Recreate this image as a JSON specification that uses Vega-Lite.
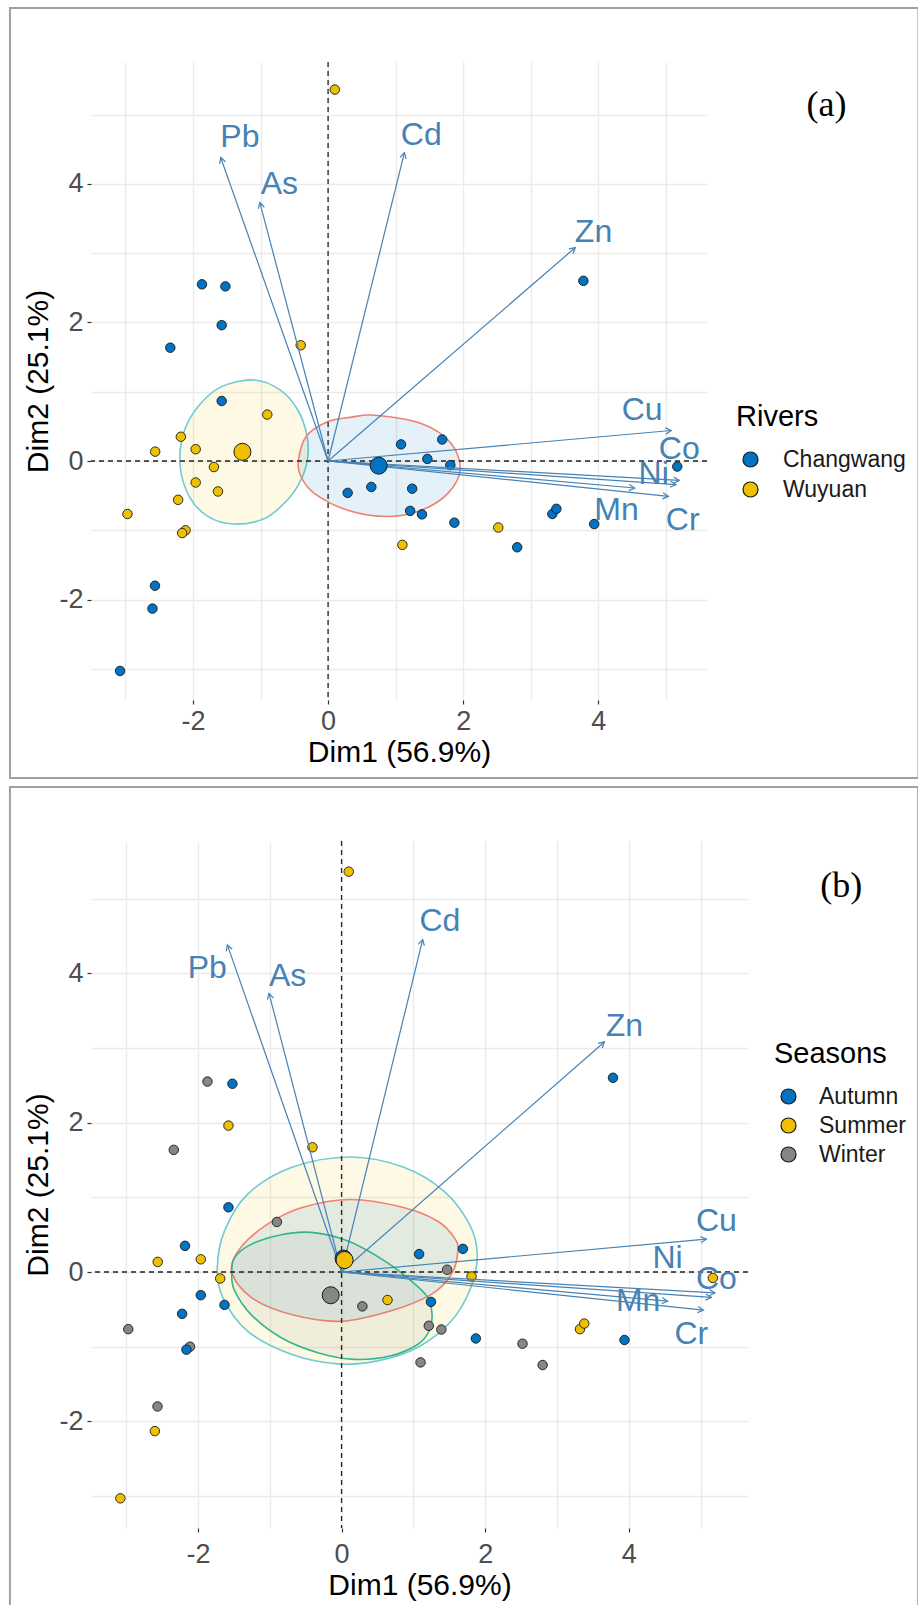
{
  "$schema": "https://vega.github.io/schema/vega-lite/v6.json",
  "background": "white",
  "padding": {"left": 8, "top": 7, "right": 0, "bottom": 0},
  "spacing": 6,
  "config": {
    "view": {"stroke": null},
    "font": "Liberation Sans",
    "axis": {
      "domain": false,
      "grid": true,
      "gridColor": "#EBEBEB",
      "gridWidth": 1.4,
      "tickColor": "#333333",
      "tickSize": 4,
      "tickWidth": 1.2,
      "labelFontSize": 27,
      "labelColor": "#4D4D4D",
      "titleFontSize": 30,
      "titleFontWeight": "normal",
      "titleColor": "#000000",
      "labelOverlap": false,
      "labelFlush": false
    }
  },
  "resolve": {"scale": {"x": "independent", "y": "independent", "color": "independent", "fill": "independent", "stroke": "independent"}},
  "datasets": {
    "pts": [
      {"x": -1.867, "y": 2.55, "river": "Changwang", "season": "Winter"},
      {"x": -1.52, "y": 2.52, "river": "Changwang", "season": "Autumn"},
      {"x": -1.575, "y": 1.96, "river": "Changwang", "season": "Summer"},
      {"x": -2.336, "y": 1.635, "river": "Changwang", "season": "Winter"},
      {"x": -1.575, "y": 0.866, "river": "Changwang", "season": "Autumn"},
      {"x": -2.563, "y": -1.8, "river": "Changwang", "season": "Winter"},
      {"x": -2.6, "y": -2.13, "river": "Changwang", "season": "Summer"},
      {"x": -3.08, "y": -3.03, "river": "Changwang", "season": "Summer"},
      {"x": 1.08, "y": 0.24, "river": "Changwang", "season": "Autumn"},
      {"x": 0.29, "y": -0.46, "river": "Changwang", "season": "Winter"},
      {"x": 0.64, "y": -0.375, "river": "Changwang", "season": "Summer"},
      {"x": 1.245, "y": -0.4, "river": "Changwang", "season": "Autumn"},
      {"x": 1.215, "y": -0.72, "river": "Changwang", "season": "Winter"},
      {"x": 1.39, "y": -0.77, "river": "Changwang", "season": "Winter"},
      {"x": 1.69, "y": 0.31, "river": "Changwang", "season": "Autumn"},
      {"x": 1.47, "y": 0.03, "river": "Changwang", "season": "Winter"},
      {"x": 1.81, "y": -0.06, "river": "Changwang", "season": "Summer"},
      {"x": 1.87, "y": -0.89, "river": "Changwang", "season": "Autumn"},
      {"x": 2.8, "y": -1.245, "river": "Changwang", "season": "Winter"},
      {"x": 3.32, "y": -0.765, "river": "Changwang", "season": "Summer"},
      {"x": 3.38, "y": -0.69, "river": "Changwang", "season": "Summer"},
      {"x": 3.94, "y": -0.91, "river": "Changwang", "season": "Autumn"},
      {"x": 5.17, "y": -0.08, "river": "Changwang", "season": "Summer"},
      {"x": 3.78, "y": 2.6, "river": "Changwang", "season": "Autumn"},
      {"x": 0.1, "y": 5.36, "river": "Wuyuan", "season": "Summer"},
      {"x": -0.405, "y": 1.67, "river": "Wuyuan", "season": "Summer"},
      {"x": -0.9, "y": 0.67, "river": "Wuyuan", "season": "Winter"},
      {"x": -2.18, "y": 0.35, "river": "Wuyuan", "season": "Autumn"},
      {"x": -2.56, "y": 0.135, "river": "Wuyuan", "season": "Summer"},
      {"x": -1.96, "y": 0.17, "river": "Wuyuan", "season": "Summer"},
      {"x": -1.69, "y": -0.087, "river": "Wuyuan", "season": "Summer"},
      {"x": -1.96, "y": -0.31, "river": "Wuyuan", "season": "Autumn"},
      {"x": -1.63, "y": -0.44, "river": "Wuyuan", "season": "Autumn"},
      {"x": -2.22, "y": -0.56, "river": "Wuyuan", "season": "Autumn"},
      {"x": -2.97, "y": -0.765, "river": "Wuyuan", "season": "Winter"},
      {"x": -2.11, "y": -1.0, "river": "Wuyuan", "season": "Winter"},
      {"x": -2.16, "y": -1.04, "river": "Wuyuan", "season": "Autumn"},
      {"x": 1.1, "y": -1.21, "river": "Wuyuan", "season": "Winter"},
      {"x": 2.52, "y": -0.96, "river": "Wuyuan", "season": "Winter"}
    ],
    "vars": [
      {"v": "Pb", "x": -1.59, "y": 4.38, "lxa": -1.305, "lya": 4.68, "lxb": -1.87, "lyb": 4.07},
      {"v": "As", "x": -1.01, "y": 3.73, "lxa": -0.72, "lya": 4.0, "lxb": -0.75, "lyb": 3.96},
      {"v": "Cd", "x": 1.13, "y": 4.45, "lxa": 1.38, "lya": 4.7, "lxb": 1.37, "lyb": 4.7},
      {"v": "Zn", "x": 3.66, "y": 3.08, "lxa": 3.93, "lya": 3.31, "lxb": 3.94, "lyb": 3.29},
      {"v": "Cu", "x": 5.08, "y": 0.44, "lxa": 4.65, "lya": 0.73, "lxb": 5.22, "lyb": 0.68},
      {"v": "Co", "x": 5.2, "y": -0.28, "lxa": 5.2, "lya": 0.18, "lxb": 5.22, "lyb": -0.1},
      {"v": "Ni", "x": 5.15, "y": -0.34, "lxa": 4.82, "lya": -0.19, "lxb": 4.54, "lyb": 0.19},
      {"v": "Mn", "x": 4.54, "y": -0.39, "lxa": 4.27, "lya": -0.71, "lxb": 4.13, "lyb": -0.39},
      {"v": "Cr", "x": 5.04, "y": -0.51, "lxa": 5.25, "lya": -0.85, "lxb": 4.87, "lyb": -0.83}
    ],
    "ellA": [
      {"g": "Wuyuan", "i": 1, "x": -1.09, "y": 1.17},
      {"g": "Wuyuan", "i": 2, "x": -0.7, "y": 1.02},
      {"g": "Wuyuan", "i": 3, "x": -0.45, "y": 0.74},
      {"g": "Wuyuan", "i": 4, "x": -0.32, "y": 0.4},
      {"g": "Wuyuan", "i": 5, "x": -0.3, "y": 0.06},
      {"g": "Wuyuan", "i": 6, "x": -0.4, "y": -0.27},
      {"g": "Wuyuan", "i": 7, "x": -0.6, "y": -0.56},
      {"g": "Wuyuan", "i": 8, "x": -0.94, "y": -0.83},
      {"g": "Wuyuan", "i": 9, "x": -1.41, "y": -0.91},
      {"g": "Wuyuan", "i": 10, "x": -1.78, "y": -0.8},
      {"g": "Wuyuan", "i": 11, "x": -2.05, "y": -0.52},
      {"g": "Wuyuan", "i": 12, "x": -2.19, "y": -0.08},
      {"g": "Wuyuan", "i": 13, "x": -2.14, "y": 0.4},
      {"g": "Wuyuan", "i": 14, "x": -1.93, "y": 0.78},
      {"g": "Wuyuan", "i": 15, "x": -1.585, "y": 1.07},
      {"g": "Changwang", "i": 1, "x": 0.69, "y": 0.66},
      {"g": "Changwang", "i": 2, "x": 1.38, "y": 0.54},
      {"g": "Changwang", "i": 3, "x": 1.82, "y": 0.255},
      {"g": "Changwang", "i": 4, "x": 1.955, "y": -0.13},
      {"g": "Changwang", "i": 5, "x": 1.77, "y": -0.47},
      {"g": "Changwang", "i": 6, "x": 1.38, "y": -0.71},
      {"g": "Changwang", "i": 7, "x": 0.88, "y": -0.8},
      {"g": "Changwang", "i": 8, "x": 0.29, "y": -0.71},
      {"g": "Changwang", "i": 9, "x": -0.2, "y": -0.47},
      {"g": "Changwang", "i": 10, "x": -0.4, "y": -0.23},
      {"g": "Changwang", "i": 11, "x": -0.44, "y": 0.0},
      {"g": "Changwang", "i": 12, "x": -0.32, "y": 0.36},
      {"g": "Changwang", "i": 13, "x": 0.0, "y": 0.57},
      {"g": "Changwang", "i": 14, "x": 0.33, "y": 0.63}
    ],
    "ellB": [
      {"g": "Summer", "i": 1, "x": 0.13, "y": 1.54},
      {"g": "Summer", "i": 2, "x": 0.875, "y": 1.4},
      {"g": "Summer", "i": 3, "x": 1.43, "y": 1.08},
      {"g": "Summer", "i": 4, "x": 1.78, "y": 0.64},
      {"g": "Summer", "i": 5, "x": 1.89, "y": 0.24},
      {"g": "Summer", "i": 6, "x": 1.8, "y": -0.21},
      {"g": "Summer", "i": 7, "x": 1.525, "y": -0.66},
      {"g": "Summer", "i": 8, "x": 1.06, "y": -1.01},
      {"g": "Summer", "i": 9, "x": 0.5, "y": -1.19},
      {"g": "Summer", "i": 10, "x": -0.05, "y": -1.23},
      {"g": "Summer", "i": 11, "x": -0.7, "y": -1.1},
      {"g": "Summer", "i": 12, "x": -1.31, "y": -0.79},
      {"g": "Summer", "i": 13, "x": -1.655, "y": -0.34},
      {"g": "Summer", "i": 14, "x": -1.73, "y": 0.06},
      {"g": "Summer", "i": 15, "x": -1.63, "y": 0.55},
      {"g": "Summer", "i": 16, "x": -1.31, "y": 1.04},
      {"g": "Summer", "i": 17, "x": -0.7, "y": 1.4},
      {"g": "Autumn", "i": 1, "x": 0.13, "y": 0.97},
      {"g": "Autumn", "i": 2, "x": 0.875, "y": 0.86},
      {"g": "Autumn", "i": 3, "x": 1.34, "y": 0.68},
      {"g": "Autumn", "i": 4, "x": 1.57, "y": 0.46},
      {"g": "Autumn", "i": 5, "x": 1.62, "y": 0.28},
      {"g": "Autumn", "i": 6, "x": 1.53, "y": -0.03},
      {"g": "Autumn", "i": 7, "x": 1.25, "y": -0.3},
      {"g": "Autumn", "i": 8, "x": 0.69, "y": -0.52},
      {"g": "Autumn", "i": 9, "x": 0.0, "y": -0.66},
      {"g": "Autumn", "i": 10, "x": -0.7, "y": -0.57},
      {"g": "Autumn", "i": 11, "x": -1.26, "y": -0.34},
      {"g": "Autumn", "i": 12, "x": -1.53, "y": 0.01},
      {"g": "Autumn", "i": 13, "x": -1.4, "y": 0.33},
      {"g": "Autumn", "i": 14, "x": -1.03, "y": 0.64},
      {"g": "Autumn", "i": 15, "x": -0.56, "y": 0.86},
      {"g": "Winter", "i": 1, "x": -1.49, "y": 0.19},
      {"g": "Winter", "i": 2, "x": -1.26, "y": 0.37},
      {"g": "Winter", "i": 3, "x": -0.84, "y": 0.5},
      {"g": "Winter", "i": 4, "x": -0.42, "y": 0.53},
      {"g": "Winter", "i": 5, "x": 0.09, "y": 0.415},
      {"g": "Winter", "i": 6, "x": 0.6, "y": 0.15},
      {"g": "Winter", "i": 7, "x": 0.97, "y": -0.12},
      {"g": "Winter", "i": 8, "x": 1.2, "y": -0.34},
      {"g": "Winter", "i": 9, "x": 1.26, "y": -0.57},
      {"g": "Winter", "i": 10, "x": 1.22, "y": -0.79},
      {"g": "Winter", "i": 11, "x": 1.06, "y": -0.97},
      {"g": "Winter", "i": 12, "x": 0.69, "y": -1.12},
      {"g": "Winter", "i": 13, "x": 0.18, "y": -1.17},
      {"g": "Winter", "i": 14, "x": -0.33, "y": -1.08},
      {"g": "Winter", "i": 15, "x": -0.84, "y": -0.88},
      {"g": "Winter", "i": 16, "x": -1.26, "y": -0.57},
      {"g": "Winter", "i": 17, "x": -1.49, "y": -0.25},
      {"g": "Winter", "i": 18, "x": -1.53, "y": -0.03}
    ]
  },
  "vconcat": [
    {
      "width": 616,
      "height": 638,
      "layer": [
        {
          "data": {"values": [{}]},
          "mark": {"type": "rect", "fill": "transparent", "stroke": "#A0A0A0", "strokeWidth": 2},
          "encoding": {
            "x": {"datum": -4.71, "type": "quantitative", "scale": {"domain": [-3.51, 5.61], "nice": false, "zero": false}, "title": "Dim1 (56.9%)"},
            "x2": {"datum": 8.74},
            "y": {"datum": 6.537, "type": "quantitative", "scale": {"domain": [-3.449, 5.758], "nice": false, "zero": false}, "title": "Dim2 (25.1%)"},
            "y2": {"datum": -4.574}
          }
        },
        {
          "data": {"name": "ellA"},
          "mark": {"type": "line", "interpolate": "cardinal-closed", "strokeWidth": 1.6, "fillOpacity": 0.1, "opacity": 1},
          "encoding": {
            "x": {"field": "x", "type": "quantitative", "scale": {"domain": [-3.51, 5.61], "nice": false, "zero": false}, "title": "Dim1 (56.9%)"},
            "y": {"field": "y", "type": "quantitative", "scale": {"domain": [-3.449, 5.758], "nice": false, "zero": false}, "title": "Dim2 (25.1%)"},
            "order": {"field": "i", "type": "quantitative"},
            "stroke": {"field": "g", "type": "nominal", "scale": {"domain": ["Wuyuan", "Changwang"], "range": ["#6FCBD4", "#F08070"]}, "legend": null},
            "fill": {"field": "g", "type": "nominal", "scale": {"domain": ["Wuyuan", "Changwang"], "range": ["#EFC000", "#0073C2"]}, "legend": null}
          }
        },
        {
          "data": {"values": [{}]},
          "mark": {"type": "rule", "color": "#222222", "strokeWidth": 1.3, "strokeDash": [5, 4]},
          "encoding": {
            "x": {"datum": 0, "type": "quantitative", "scale": {"domain": [-3.51, 5.61], "nice": false, "zero": false}, "title": "Dim1 (56.9%)"}
          }
        },
        {
          "data": {"values": [{}]},
          "mark": {"type": "rule", "color": "#222222", "strokeWidth": 1.3, "strokeDash": [5, 4]},
          "encoding": {
            "y": {"datum": 0, "type": "quantitative", "scale": {"domain": [-3.449, 5.758], "nice": false, "zero": false}, "title": "Dim2 (25.1%)"}
          }
        },
        {
          "data": {"name": "pts"},
          "mark": {"type": "point", "shape": "circle", "filled": true, "size": 90, "stroke": "#1A1A1A", "strokeWidth": 0.9, "opacity": 1},
          "encoding": {
            "x": {"field": "x", "type": "quantitative", "scale": {"domain": [-3.51, 5.61], "nice": false, "zero": false}, "title": "Dim1 (56.9%)",
              "axis": {"values": [-3, -2, -1, 0, 1, 2, 3, 4, 5], "labelExpr": "datum.value % 2 === 0 ? '' + datum.value : ''", "tickOpacity": {"condition": {"test": "datum.value % 2 !== 0", "value": 0}, "value": 1}, "labelPadding": 4, "titlePadding": 3}},
            "y": {"field": "y", "type": "quantitative", "scale": {"domain": [-3.449, 5.758], "nice": false, "zero": false}, "title": "Dim2 (25.1%)",
              "axis": {"values": [-3, -2, -1, 0, 1, 2, 3, 4, 5], "labelExpr": "datum.value % 2 === 0 ? '' + datum.value : ''", "tickOpacity": {"condition": {"test": "datum.value % 2 !== 0", "value": 0}, "value": 1}, "labelPadding": 4, "titlePadding": 5}},
            "color": {"field": "river", "type": "nominal", "scale": {"domain": ["Changwang", "Wuyuan"], "range": ["#0073C2", "#EFC000"]},
              "legend": {"title": "Rivers", "orient": "none", "legendX": 645, "legendY": 341, "titleFontSize": 29, "titleFontWeight": "normal", "titleColor": "#000000", "titlePadding": 16, "labelFontSize": 23, "labelColor": "#1A1A1A", "symbolSize": 225, "symbolType": "circle", "symbolStrokeColor": "#333333", "symbolStrokeWidth": 1.2, "symbolOpacity": 1, "rowPadding": 6, "labelOffset": 21, "symbolOffset": 3}}
          }
        },
        {
          "data": {"name": "vars"},
          "mark": {"type": "rule", "color": "#4682B4", "strokeWidth": 1.2},
          "encoding": {
            "x": {"field": "x", "type": "quantitative", "scale": {"domain": [-3.51, 5.61], "nice": false, "zero": false}, "title": "Dim1 (56.9%)"},
            "y": {"field": "y", "type": "quantitative", "scale": {"domain": [-3.449, 5.758], "nice": false, "zero": false}, "title": "Dim2 (25.1%)"},
            "x2": {"datum": 0},
            "y2": {"datum": 0}
          }
        },
        {
          "data": {"name": "vars"},
          "transform": [{"calculate": "atan2(datum.x * 67.5, datum.y * 69.3) * 180 / PI", "as": "ang"}],
          "mark": {"type": "point", "shape": "M -0.55 1 L 0 0 L 0.55 1", "filled": false, "color": "#4682B4", "strokeWidth": 1.2, "size": 130, "opacity": 1},
          "encoding": {
            "x": {"field": "x", "type": "quantitative", "scale": {"domain": [-3.51, 5.61], "nice": false, "zero": false}, "title": "Dim1 (56.9%)"},
            "y": {"field": "y", "type": "quantitative", "scale": {"domain": [-3.449, 5.758], "nice": false, "zero": false}, "title": "Dim2 (25.1%)"},
            "angle": {"field": "ang", "type": "quantitative", "scale": null}
          }
        },
        {
          "data": {"name": "vars"},
          "mark": {"type": "text", "color": "#4682B4", "fontSize": 32, "align": "center", "baseline": "middle"},
          "encoding": {
            "x": {"field": "lxa", "type": "quantitative", "scale": {"domain": [-3.51, 5.61], "nice": false, "zero": false}, "title": "Dim1 (56.9%)"},
            "y": {"field": "lya", "type": "quantitative", "scale": {"domain": [-3.449, 5.758], "nice": false, "zero": false}, "title": "Dim2 (25.1%)"},
            "text": {"field": "v"}
          }
        },
        {
          "data": {"name": "pts"},
          "transform": [{"aggregate": [{"op": "mean", "field": "x", "as": "mx"}, {"op": "mean", "field": "y", "as": "my"}], "groupby": ["river"]}],
          "mark": {"type": "point", "shape": "circle", "filled": true, "size": 290, "stroke": "#1A1A1A", "strokeWidth": 1, "opacity": 1},
          "encoding": {
            "x": {"field": "mx", "type": "quantitative", "scale": {"domain": [-3.51, 5.61], "nice": false, "zero": false}, "title": "Dim1 (56.9%)"},
            "y": {"field": "my", "type": "quantitative", "scale": {"domain": [-3.449, 5.758], "nice": false, "zero": false}, "title": "Dim2 (25.1%)"},
            "color": {"field": "river", "type": "nominal"}
          }
        },
        {
          "data": {"values": [{}]},
          "mark": {"type": "text", "text": "(a)", "font": "Liberation Serif", "fontSize": 36, "color": "#000000", "align": "center", "baseline": "middle"},
          "encoding": {
            "x": {"datum": 7.378, "type": "quantitative", "scale": {"domain": [-3.51, 5.61], "nice": false, "zero": false}, "title": "Dim1 (56.9%)"},
            "y": {"datum": 5.137, "type": "quantitative", "scale": {"domain": [-3.449, 5.758], "nice": false, "zero": false}, "title": "Dim2 (25.1%)"}
          }
        }
      ]
    },
    {
      "width": 657,
      "height": 687,
      "layer": [
        {
          "data": {"values": [{}]},
          "mark": {"type": "rect", "fill": "transparent", "stroke": "#A0A0A0", "strokeWidth": 2},
          "encoding": {
            "x": {"datum": -4.618, "type": "quantitative", "scale": {"domain": [-3.489, 5.66], "nice": false, "zero": false}, "title": "Dim1 (56.9%)"},
            "x2": {"datum": 8.03},
            "y": {"datum": 6.493, "type": "quantitative", "scale": {"domain": [-3.427, 5.77], "nice": false, "zero": false}, "title": "Dim2 (25.1%)"},
            "y2": {"datum": -4.739}
          }
        },
        {
          "data": {"name": "ellB"},
          "mark": {"type": "line", "interpolate": "cardinal-closed", "strokeWidth": 1.6, "fillOpacity": 0.1, "opacity": 1},
          "encoding": {
            "x": {"field": "x", "type": "quantitative", "scale": {"domain": [-3.489, 5.66], "nice": false, "zero": false}, "title": "Dim1 (56.9%)"},
            "y": {"field": "y", "type": "quantitative", "scale": {"domain": [-3.427, 5.77], "nice": false, "zero": false}, "title": "Dim2 (25.1%)"},
            "order": {"field": "i", "type": "quantitative"},
            "stroke": {"field": "g", "type": "nominal", "scale": {"domain": ["Winter", "Summer", "Autumn"], "range": ["#35B58C", "#6FCBD4", "#F08070"]}, "legend": null},
            "fill": {"field": "g", "type": "nominal", "scale": {"domain": ["Winter", "Summer", "Autumn"], "range": ["#868686", "#EFC000", "#0073C2"]}, "legend": null}
          }
        },
        {
          "data": {"values": [{}]},
          "mark": {"type": "rule", "color": "#222222", "strokeWidth": 1.3, "strokeDash": [5, 4]},
          "encoding": {
            "x": {"datum": 0, "type": "quantitative", "scale": {"domain": [-3.489, 5.66], "nice": false, "zero": false}, "title": "Dim1 (56.9%)"}
          }
        },
        {
          "data": {"values": [{}]},
          "mark": {"type": "rule", "color": "#222222", "strokeWidth": 1.3, "strokeDash": [5, 4]},
          "encoding": {
            "y": {"datum": 0, "type": "quantitative", "scale": {"domain": [-3.427, 5.77], "nice": false, "zero": false}, "title": "Dim2 (25.1%)"}
          }
        },
        {
          "data": {"name": "pts"},
          "mark": {"type": "point", "shape": "circle", "filled": true, "size": 90, "stroke": "#1A1A1A", "strokeWidth": 0.9, "opacity": 1},
          "encoding": {
            "x": {"field": "x", "type": "quantitative", "scale": {"domain": [-3.489, 5.66], "nice": false, "zero": false}, "title": "Dim1 (56.9%)",
              "axis": {"values": [-3, -2, -1, 0, 1, 2, 3, 4, 5], "labelExpr": "datum.value % 2 === 0 ? '' + datum.value : ''", "tickOpacity": {"condition": {"test": "datum.value % 2 !== 0", "value": 0}, "value": 1}, "labelPadding": 9, "titlePadding": 3}},
            "y": {"field": "y", "type": "quantitative", "scale": {"domain": [-3.427, 5.77], "nice": false, "zero": false}, "title": "Dim2 (25.1%)",
              "axis": {"values": [-3, -2, -1, 0, 1, 2, 3, 4, 5], "labelExpr": "datum.value % 2 === 0 ? '' + datum.value : ''", "tickOpacity": {"condition": {"test": "datum.value % 2 !== 0", "value": 0}, "value": 1}, "labelPadding": 4, "titlePadding": 5}},
            "color": {"field": "season", "type": "nominal", "scale": {"domain": ["Autumn", "Summer", "Winter"], "range": ["#0073C2", "#EFC000", "#868686"]},
              "legend": {"title": "Seasons", "orient": "none", "legendX": 683, "legendY": 199, "titleFontSize": 29, "titleFontWeight": "normal", "titleColor": "#000000", "titlePadding": 16, "labelFontSize": 23, "labelColor": "#1A1A1A", "symbolSize": 225, "symbolType": "circle", "symbolStrokeColor": "#333333", "symbolStrokeWidth": 1.2, "symbolOpacity": 1, "rowPadding": 5, "labelOffset": 19, "symbolOffset": 3}}
          }
        },
        {
          "data": {"name": "vars"},
          "mark": {"type": "rule", "color": "#4682B4", "strokeWidth": 1.2},
          "encoding": {
            "x": {"field": "x", "type": "quantitative", "scale": {"domain": [-3.489, 5.66], "nice": false, "zero": false}, "title": "Dim1 (56.9%)"},
            "y": {"field": "y", "type": "quantitative", "scale": {"domain": [-3.427, 5.77], "nice": false, "zero": false}, "title": "Dim2 (25.1%)"},
            "x2": {"datum": 0},
            "y2": {"datum": 0}
          }
        },
        {
          "data": {"name": "vars"},
          "transform": [{"calculate": "atan2(datum.x * 71.8, datum.y * 74.7) * 180 / PI", "as": "ang"}],
          "mark": {"type": "point", "shape": "M -0.55 1 L 0 0 L 0.55 1", "filled": false, "color": "#4682B4", "strokeWidth": 1.2, "size": 130, "opacity": 1},
          "encoding": {
            "x": {"field": "x", "type": "quantitative", "scale": {"domain": [-3.489, 5.66], "nice": false, "zero": false}, "title": "Dim1 (56.9%)"},
            "y": {"field": "y", "type": "quantitative", "scale": {"domain": [-3.427, 5.77], "nice": false, "zero": false}, "title": "Dim2 (25.1%)"},
            "angle": {"field": "ang", "type": "quantitative", "scale": null}
          }
        },
        {
          "data": {"name": "vars"},
          "mark": {"type": "text", "color": "#4682B4", "fontSize": 32, "align": "center", "baseline": "middle"},
          "encoding": {
            "x": {"field": "lxb", "type": "quantitative", "scale": {"domain": [-3.489, 5.66], "nice": false, "zero": false}, "title": "Dim1 (56.9%)"},
            "y": {"field": "lyb", "type": "quantitative", "scale": {"domain": [-3.427, 5.77], "nice": false, "zero": false}, "title": "Dim2 (25.1%)"},
            "text": {"field": "v"}
          }
        },
        {
          "data": {"name": "pts"},
          "transform": [{"aggregate": [{"op": "mean", "field": "x", "as": "mx"}, {"op": "mean", "field": "y", "as": "my"}], "groupby": ["season"]}],
          "mark": {"type": "point", "shape": "circle", "filled": true, "size": 290, "stroke": "#1A1A1A", "strokeWidth": 1, "opacity": 1},
          "encoding": {
            "x": {"field": "mx", "type": "quantitative", "scale": {"domain": [-3.489, 5.66], "nice": false, "zero": false}, "title": "Dim1 (56.9%)"},
            "y": {"field": "my", "type": "quantitative", "scale": {"domain": [-3.427, 5.77], "nice": false, "zero": false}, "title": "Dim2 (25.1%)"},
            "color": {"field": "season", "type": "nominal"}
          }
        },
        {
          "data": {"values": [{}]},
          "mark": {"type": "text", "text": "(b)", "font": "Liberation Serif", "fontSize": 36, "color": "#000000", "align": "center", "baseline": "middle"},
          "encoding": {
            "x": {"datum": 6.957, "type": "quantitative", "scale": {"domain": [-3.489, 5.66], "nice": false, "zero": false}, "title": "Dim1 (56.9%)"},
            "y": {"datum": 5.167, "type": "quantitative", "scale": {"domain": [-3.427, 5.77], "nice": false, "zero": false}, "title": "Dim2 (25.1%)"}
          }
        }
      ]
    }
  ]
}
